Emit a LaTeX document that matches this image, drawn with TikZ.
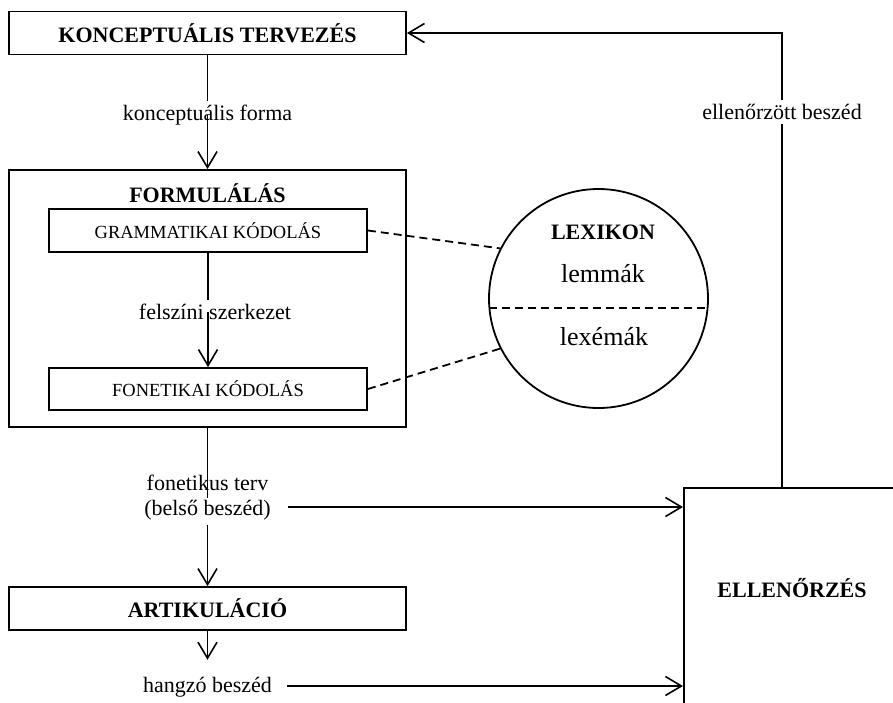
\documentclass[tikz,border=0pt]{standalone}
\usepackage{fontspec}
\setmainfont{Liberation Serif}
\usetikzlibrary{arrows.meta}

\begin{document}
\begin{tikzpicture}[
    x=1pt, y=-1pt,
    line width=1.8pt,
    >={Straight Barb[length=16pt,width=19pt,line width=1.6pt]},
    every node/.style={font=\fontsize{22}{25}\selectfont},
    stage/.style={%
      draw,
      rectangle,
      inner sep=0pt,
      font=\fontsize{22}{25}\selectfont\bfseries,
    },
    subbox/.style={%
      draw,
      rectangle,
      inner sep=0pt,
      font=\fontsize{18.5}{22}\selectfont,
    },
    heading/.style={font=\fontsize{22}{25}\selectfont\bfseries},
    entry/.style={font=\fontsize{26}{30}\selectfont},
    link/.style={dash pattern=on 8pt off 5pt},
  ]
    \useasboundingbox (0,0) rectangle (893,702);
    \clip (0,0) rectangle (893,702);

    % boxes
    \node [stage, minimum width=397pt, minimum height=43pt] (KT) at (207.5,33) {KONCEPTUÁLIS TERVEZÉS};
    \node [draw, inner sep=0pt, minimum width=397pt, minimum height=257pt] (F) at (207.5,298.5) {};
    \node [heading] (Ftitle) at (207.5,193) {FORMULÁLÁS};
    \node [subbox, minimum width=318pt, minimum height=43pt] (GK) at (208,230.5) {GRAMMATIKAI KÓDOLÁS};
    \node [subbox, minimum width=318pt, minimum height=42pt] (FK) at (208,389) {FONETIKAI KÓDOLÁS};
    \node [stage, minimum width=397pt, minimum height=43pt] (A) at (207.5,608.5) {ARTIKULÁCIÓ};
    \node [draw, anchor=north west, inner sep=0pt, minimum width=300pt, minimum height=300pt] (E) at (683,487) {};
    \node [heading] (Etitle) at (792,588) {ELLENŐRZÉS};

    % lexikon
    \node [draw, circle, inner sep=0pt, minimum size=219pt] (LEX) at (598.5,298.5) {};
    \node [heading] (LEXtitle) at (603,232) {LEXIKON};
    \node [entry] (lemma) at (603,274) {lemmák};
    \node [entry] (lexeme) at (604,337) {lexémák};

    % labels
    \node (kf) at (207.5,115) {konceptuális forma};
    \node (fsz) at (215,312) {felszíni szerkezet};
    \node [align=center] (ft) at (207.5,498) {fonetikus terv\\(belső beszéd)};
    \node (hb) at (207.5,687) {hangzó beszéd};
    \node (eb) at (782,112) {ellenőrzött beszéd};
    \coordinate (ftout) at ([xshift=13pt,yshift=-9pt]ft.east);
    \coordinate (hbout) at ([xshift=11pt,yshift=1pt]hb.east);
    \coordinate (hbtop) at ([yshift=13pt]hb.north);

    % main flow
    \draw (KT.south) -- (kf.north);
    \draw [->] (kf.center) -- (F.north);
    \draw (GK.south) -- (GK.south |- fsz.north);
    \draw [->] (GK.south |- fsz.center) -- (FK.north);
    \draw (F.south) -- (ft.center);
    \draw [->] (ft.south) -- (A.north);
    \draw [->] (A.south) -- (hbtop);

    % to the monitor
    \draw [->] (ftout) -- (ftout -| E.west);
    \draw [->] (hbout) -- (hbout -| E.west);
    \draw (E.north -| eb.south) -- (eb.south);
    \draw [->] (eb.north) -- (eb.north |- KT.east) -- (KT.east);

    % lexical access
    \draw [link] (GK.east) -- (LEX.153);
    \draw [link] (FK.east) -- (LEX.207);
    \draw [link] (LEX.185) -- (LEX.-5);
\end{tikzpicture}
\end{document}
